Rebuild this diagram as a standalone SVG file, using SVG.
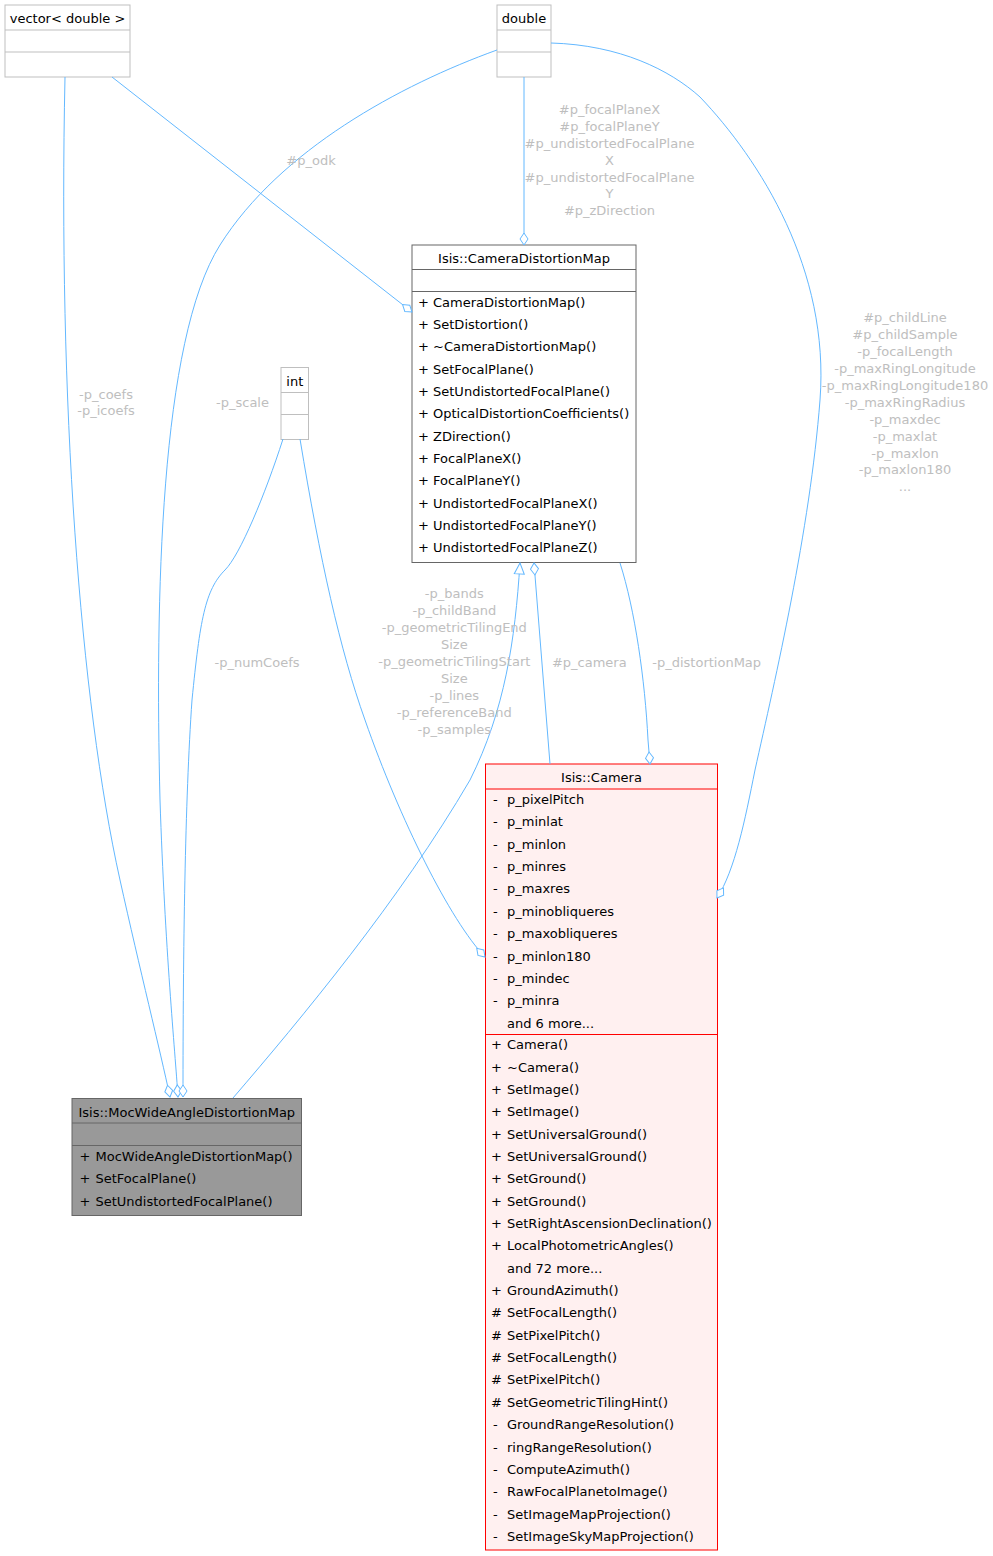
<svg xmlns="http://www.w3.org/2000/svg" width="993" height="1556" viewBox="0 0 993 1556">
<style>
text{font-family:"DejaVu Sans","Liberation Sans",sans-serif;font-size:13px;fill:#000}
.c{text-anchor:middle}
.lbl{fill:#BEBEBE;text-anchor:middle}
.ext{fill:#fff;stroke:#BFBFBF;stroke-width:1}
.doc{fill:#fff;stroke:#666;stroke-width:1}
.cam{fill:#FFF0F0;stroke:#FF0000;stroke-width:1}
.moc{fill:#999999;stroke:#666;stroke-width:1}
.sepx{stroke:#BFBFBF;stroke-width:1}
.sepd{stroke:#666;stroke-width:1}
.sepr{stroke:#FF0000;stroke-width:1}
.e{fill:none;stroke:#63B8FF;stroke-width:1}
</style>
<defs>
<marker id="dia" markerUnits="userSpaceOnUse" orient="auto" refX="0" refY="0" markerWidth="14" markerHeight="10" overflow="visible">
<path d="M0,0 L-6,-4 L-12,0 L-6,4 Z" fill="#fff" stroke="#63B8FF" stroke-width="1"/>
</marker>
<marker id="tri" markerUnits="userSpaceOnUse" orient="auto" refX="0" refY="0" markerWidth="14" markerHeight="12" overflow="visible">
<path d="M0,0 L-11,-5 L-11,5 Z" fill="#fff" stroke="#63B8FF" stroke-width="1"/>
</marker>
</defs>
<rect width="993" height="1556" fill="#fff"/>

<g id="node_vector">
<rect class="ext" x="5" y="5" width="125" height="72"/>
<line class="sepx" x1="5" y1="30" x2="130" y2="30"/>
<line class="sepx" x1="5" y1="52" x2="130" y2="52"/>
<text class="c" x="67.5" y="23">vector&lt; double &gt;</text>
</g>

<g id="node_double">
<rect class="ext" x="497" y="5" width="54" height="72"/>
<line class="sepx" x1="497" y1="30" x2="551" y2="30"/>
<line class="sepx" x1="497" y1="52" x2="551" y2="52"/>
<text class="c" x="524" y="23">double</text>
</g>

<g id="node_int">
<rect class="ext" x="281" y="367.5" width="27.5" height="72"/>
<line class="sepx" x1="281" y1="392.5" x2="308.5" y2="392.5"/>
<line class="sepx" x1="281" y1="414.5" x2="308.5" y2="414.5"/>
<text class="c" x="294.8" y="386">int</text>
</g>

<g id="node_CameraDistortionMap">
<rect class="doc" x="412" y="245" width="224" height="317.5"/>
<line class="sepd" x1="412" y1="269.5" x2="636" y2="269.5"/>
<line class="sepd" x1="412" y1="291.5" x2="636" y2="291.5"/>
<text class="c" x="524" y="263">Isis::CameraDistortionMap</text>
<text x="418" y="306.5">+ CameraDistortionMap()</text>
<text x="418" y="328.9">+ SetDistortion()</text>
<text x="418" y="351.2">+ ~CameraDistortionMap()</text>
<text x="418" y="373.6">+ SetFocalPlane()</text>
<text x="418" y="395.9">+ SetUndistortedFocalPlane()</text>
<text x="418" y="418.3">+ OpticalDistortionCoefficients()</text>
<text x="418" y="440.6">+ ZDirection()</text>
<text x="418" y="463">+ FocalPlaneX()</text>
<text x="418" y="485.3">+ FocalPlaneY()</text>
<text x="418" y="507.7">+ UndistortedFocalPlaneX()</text>
<text x="418" y="530">+ UndistortedFocalPlaneY()</text>
<text x="418" y="552.4">+ UndistortedFocalPlaneZ()</text>
</g>

<g id="node_Camera">
<rect class="cam" x="485.5" y="764" width="232" height="786"/>
<line class="sepr" x1="485.5" y1="789" x2="717.5" y2="789"/>
<line class="sepr" x1="485.5" y1="1034.5" x2="717.5" y2="1034.5"/>
<text class="c" x="601.5" y="781.5">Isis::Camera</text>
<g>
<text x="493" y="804">-</text><text x="507" y="804">p_pixelPitch</text>
<text x="493" y="826.4">-</text><text x="507" y="826.4">p_minlat</text>
<text x="493" y="848.7">-</text><text x="507" y="848.7">p_minlon</text>
<text x="493" y="871.1">-</text><text x="507" y="871.1">p_minres</text>
<text x="493" y="893.4">-</text><text x="507" y="893.4">p_maxres</text>
<text x="493" y="915.8">-</text><text x="507" y="915.8">p_minobliqueres</text>
<text x="493" y="938.1">-</text><text x="507" y="938.1">p_maxobliqueres</text>
<text x="493" y="960.5">-</text><text x="507" y="960.5">p_minlon180</text>
<text x="493" y="982.8">-</text><text x="507" y="982.8">p_mindec</text>
<text x="493" y="1005.2">-</text><text x="507" y="1005.2">p_minra</text>
<text x="507" y="1027.5">and 6 more...</text>
</g>
<g>
<text x="491" y="1049.3">+</text><text x="507" y="1049.3">Camera()</text>
<text x="491" y="1071.6">+</text><text x="507" y="1071.6">~Camera()</text>
<text x="491" y="1094">+</text><text x="507" y="1094">SetImage()</text>
<text x="491" y="1116.3">+</text><text x="507" y="1116.3">SetImage()</text>
<text x="491" y="1138.6">+</text><text x="507" y="1138.6">SetUniversalGround()</text>
<text x="491" y="1161">+</text><text x="507" y="1161">SetUniversalGround()</text>
<text x="491" y="1183.3">+</text><text x="507" y="1183.3">SetGround()</text>
<text x="491" y="1205.7">+</text><text x="507" y="1205.7">SetGround()</text>
<text x="491" y="1228">+</text><text x="507" y="1228">SetRightAscensionDeclination()</text>
<text x="491" y="1250.4">+</text><text x="507" y="1250.4">LocalPhotometricAngles()</text>
<text x="507" y="1272.7">and 72 more...</text>
<text x="491" y="1295">+</text><text x="507" y="1295">GroundAzimuth()</text>
<text x="491" y="1317.4">#</text><text x="507" y="1317.4">SetFocalLength()</text>
<text x="491" y="1339.7">#</text><text x="507" y="1339.7">SetPixelPitch()</text>
<text x="491" y="1362.1">#</text><text x="507" y="1362.1">SetFocalLength()</text>
<text x="491" y="1384.4">#</text><text x="507" y="1384.4">SetPixelPitch()</text>
<text x="491" y="1406.8">#</text><text x="507" y="1406.8">SetGeometricTilingHint()</text>
<text x="493" y="1429.1">-</text><text x="507" y="1429.1">GroundRangeResolution()</text>
<text x="493" y="1451.5">-</text><text x="507" y="1451.5">ringRangeResolution()</text>
<text x="493" y="1473.8">-</text><text x="507" y="1473.8">ComputeAzimuth()</text>
<text x="493" y="1496.2">-</text><text x="507" y="1496.2">RawFocalPlanetoImage()</text>
<text x="493" y="1518.5">-</text><text x="507" y="1518.5">SetImageMapProjection()</text>
<text x="493" y="1540.9">-</text><text x="507" y="1540.9">SetImageSkyMapProjection()</text>
</g>
</g>

<g id="node_MocWideAngleDistortionMap">
<rect class="moc" x="72" y="1098.5" width="229.5" height="117"/>
<line class="sepd" x1="72" y1="1123" x2="301.5" y2="1123"/>
<line class="sepd" x1="72" y1="1145.5" x2="301.5" y2="1145.5"/>
<text class="c" x="186.8" y="1116.5">Isis::MocWideAngleDistortionMap</text>
<text x="79.5" y="1160.8">+</text><text x="95.5" y="1160.8">MocWideAngleDistortionMap()</text>
<text x="79.5" y="1183.2">+</text><text x="95.5" y="1183.2">SetFocalPlane()</text>
<text x="79.5" y="1205.6">+</text><text x="95.5" y="1205.6">SetUndistortedFocalPlane()</text>
</g>

<g id="connectors">
<path class="e" marker-end="url(#dia)" d="M65,77 C58,400 80,700 120,880 C140,970 160,1050 170,1097"/>
<path class="e" marker-end="url(#dia)" d="M112,77 L412,312"/>
<path class="e" marker-end="url(#dia)" d="M497,50 C400,85 280,150 220,245 C160,340 155,600 160,800 C165,950 175,1050 178,1097"/>
<path class="e" marker-end="url(#dia)" d="M524,77 L524,245"/>
<path class="e" marker-end="url(#dia)" d="M551,43 C620,45 670,70 700,97 C760,160 830,270 820,400 C810,530 775,680 755,770 C745,820 735,870 717,898"/>
<path class="e" marker-end="url(#dia)" d="M283,439 C265,495 240,555 225,570 C205,590 200,620 192,700 C185,800 183,950 183,1097"/>
<path class="e" marker-end="url(#dia)" d="M300,439 C320,560 340,650 365,720 C400,820 450,920 485,957"/>
<path class="e" marker-end="url(#tri)" d="M233,1098 C300,1020 400,900 470,780 C505,710 515,640 520,563"/>
<path class="e" marker-end="url(#dia)" d="M550,764 L534,563"/>
<path class="e" marker-end="url(#dia)" d="M620,563 C635,610 645,680 648,740 L650,764"/>
<text class="lbl" x="106" y="398.5">-p_coefs</text>
<text class="lbl" x="106" y="415.3">-p_icoefs</text>
<text class="lbl" x="311" y="165">#p_odk</text>
<text class="lbl" x="242.5" y="406.5">-p_scale</text>
<text class="lbl" x="257" y="667">-p_numCoefs</text>
<text class="lbl" x="609.5" y="114.3">#p_focalPlaneX</text>
<text class="lbl" x="609.5" y="131.1">#p_focalPlaneY</text>
<text class="lbl" x="609.5" y="147.9">#p_undistortedFocalPlane</text>
<text class="lbl" x="609.5" y="164.7">X</text>
<text class="lbl" x="609.5" y="181.5">#p_undistortedFocalPlane</text>
<text class="lbl" x="609.5" y="198.3">Y</text>
<text class="lbl" x="609.5" y="215.1">#p_zDirection</text>
<text class="lbl" x="905" y="322.3">#p_childLine</text>
<text class="lbl" x="905" y="339.2">#p_childSample</text>
<text class="lbl" x="905" y="356.1">-p_focalLength</text>
<text class="lbl" x="905" y="373">-p_maxRingLongitude</text>
<text class="lbl" x="905" y="389.9">-p_maxRingLongitude180</text>
<text class="lbl" x="905" y="406.8">-p_maxRingRadius</text>
<text class="lbl" x="905" y="423.7">-p_maxdec</text>
<text class="lbl" x="905" y="440.6">-p_maxlat</text>
<text class="lbl" x="905" y="457.5">-p_maxlon</text>
<text class="lbl" x="905" y="474.4">-p_maxlon180</text>
<text class="lbl" x="905" y="491.3">...</text>
<text class="lbl" x="454.3" y="598.3">-p_bands</text>
<text class="lbl" x="454.3" y="615.3">-p_childBand</text>
<text class="lbl" x="454.3" y="632.3">-p_geometricTilingEnd</text>
<text class="lbl" x="454.3" y="649.3">Size</text>
<text class="lbl" x="454.3" y="666.3">-p_geometricTilingStart</text>
<text class="lbl" x="454.3" y="683.3">Size</text>
<text class="lbl" x="454.3" y="700.3">-p_lines</text>
<text class="lbl" x="454.3" y="717.3">-p_referenceBand</text>
<text class="lbl" x="454.3" y="734.3">-p_samples</text>
<text class="lbl" x="589.3" y="666.7">#p_camera</text>
<text class="lbl" x="706.7" y="666.7">-p_distortionMap</text>
</g>
</svg>
